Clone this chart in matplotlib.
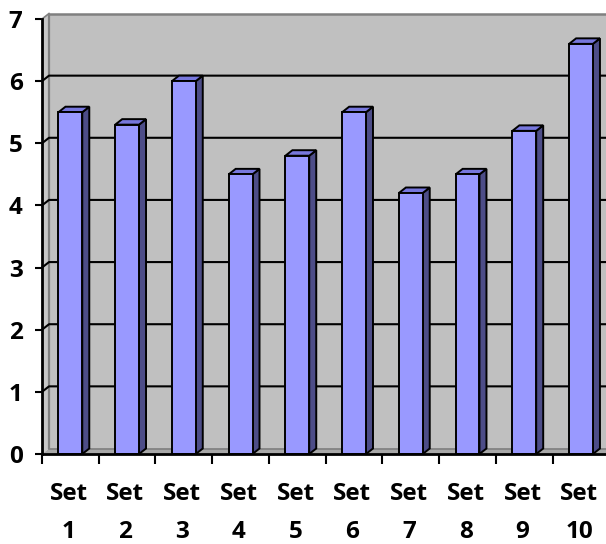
import matplotlib
matplotlib.use("Agg")
import matplotlib.pyplot as plt
from matplotlib.patches import Polygon, Rectangle

categories = ["Set\n1", "Set\n2", "Set\n3", "Set\n4", "Set\n5",
              "Set\n6", "Set\n7", "Set\n8", "Set\n9", "Set\n10"]
values = [5.5, 5.3, 6.0, 4.5, 4.8, 5.5, 4.2, 4.5, 5.2, 6.6]
y_ticks = [0, 1, 2, 3, 4, 5, 6, 7]

W, H = 606, 544
fig = plt.figure(figsize=(W / 100, H / 100), dpi=100)

# axes frame in pixels: x 0..10 -> 42..609.4, y 0..7 -> 454..19
x0_px, x1_px = 42, 42 + 56.74 * 10
y0_px, y1_px = 454, 19
ax = fig.add_axes([x0_px / W, (H - y0_px) / H,
                   (x1_px - x0_px) / W, (y0_px - y1_px) / H])
n = len(values)
ymax = 7
ax.set_xlim(0, n)
ax.set_ylim(0, ymax)

px_x = n / (x1_px - x0_px)
px_y = ymax / (y0_px - y1_px)
dx = 7 * px_x   # depth offset, horizontal
dy = 5.5 * px_y  # depth offset, vertical

wall_col = "#C0C0C0"
edge_gray = "#808080"

# back wall
ax.add_patch(Rectangle((dx, dy), n + 1, ymax, facecolor=wall_col,
                       edgecolor="none", zorder=1, clip_on=False))
# side wall
ax.add_patch(Polygon([(0, 0), (dx, dy), (dx, ymax + dy), (0, ymax)],
                     closed=True, facecolor="#C8C8C8", edgecolor="none",
                     zorder=1, clip_on=False))
# floor
ax.add_patch(Polygon([(0, 0), (dx, dy), (n + 1, dy), (n + 1, 0)],
                     closed=True, facecolor="#A8A8A8", edgecolor="none",
                     zorder=1, clip_on=False))

# wall edges
ax.plot([dx, dx], [dy, ymax + dy], color=edge_gray, lw=1.6, zorder=2,
        clip_on=False, solid_capstyle="butt")
ax.plot([dx, n + 1], [ymax + dy, ymax + dy], color=edge_gray, lw=1.8,
        zorder=2, clip_on=False)
ax.plot([0, dx], [ymax, ymax + dy], color=edge_gray, lw=1.2, zorder=2,
        clip_on=False)
ax.plot([dx, n + 1], [dy, dy], color=edge_gray, lw=1.2, zorder=2,
        clip_on=False)

# gridlines on side and back walls
for k in y_ticks[1:-1]:
    ax.plot([0, dx, n + 1], [k, k + dy, k + dy], color="black", lw=1.5,
            zorder=2, clip_on=False)

# 3D columns
bw = 0.42
front_col, top_col, side_col = "#9999FF", "#7777DD", "#4D4D88"
for i, v in enumerate(values):
    xl = i + 0.5 - bw / 2
    xr = xl + bw
    ax.add_patch(Polygon([(xr, 0), (xr + dx, dy), (xr + dx, v + dy), (xr, v)],
                         closed=True, facecolor=side_col, edgecolor="black",
                         lw=1.4, zorder=3, clip_on=False, joinstyle="miter"))
    ax.add_patch(Polygon([(xl, v), (xl + dx, v + dy), (xr + dx, v + dy), (xr, v)],
                         closed=True, facecolor=top_col, edgecolor="black",
                         lw=1.4, zorder=3, clip_on=False, joinstyle="miter"))
    ax.add_patch(Rectangle((xl, 0), bw, v, facecolor=front_col,
                           edgecolor="black", lw=1.4, zorder=4, clip_on=False,
                           joinstyle="miter"))

# axes lines
for s in ["top", "right"]:
    ax.spines[s].set_visible(False)
for s in ["left", "bottom"]:
    ax.spines[s].set_linewidth(2)
    ax.spines[s].set_zorder(5)
ax.spines["bottom"].set_bounds(0, n + 1)

font = dict(family=["Open Sans", "DejaVu Sans"], weight="bold", size=17.5)
ax.set_yticks(y_ticks)
ax.set_yticklabels([str(t) for t in y_ticks], fontdict=font)
ax.tick_params(axis="y", length=5, width=1.5, pad=9, direction="out")

ax.set_xticks(range(n + 1))
ax.set_xticklabels([])
ax.tick_params(axis="x", length=7, width=1.5, direction="out")
ax.patch.set_visible(False)

# two-line category labels
for i, lab in enumerate(categories):
    top, bottom = lab.split("\n")
    ax.text(i + 0.47, -45.5 * px_y, top, ha="center", va="baseline",
            fontdict=font, clip_on=False)
    ax.text(i + 0.47, -89.5 * px_y, bottom, ha="center", va="bottom",
            fontdict=font, clip_on=False)

fig.savefig("out.png", dpi=100)
